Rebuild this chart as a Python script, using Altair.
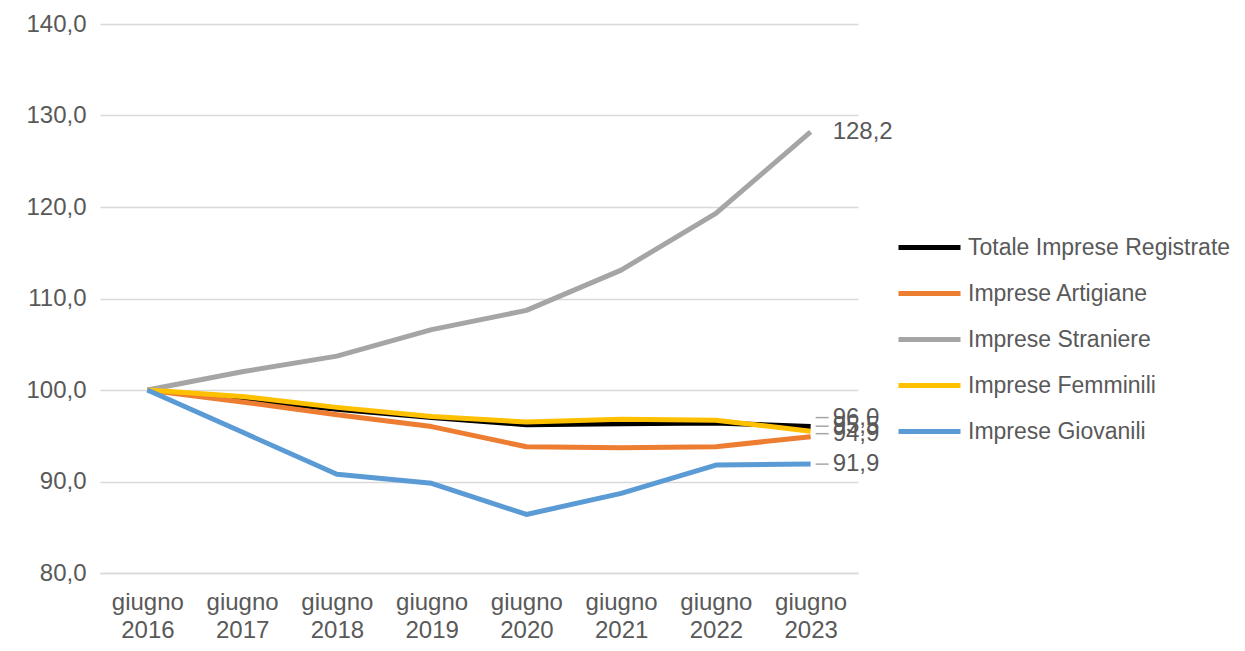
import altair as alt
import pandas as pd

years = ["2016", "2017", "2018", "2019", "2020", "2021", "2022", "2023"]
series = ["Totale Imprese Registrate", "Imprese Artigiane", "Imprese Straniere",
          "Imprese Femminili", "Imprese Giovanili"]
colors = ["#000000", "#ED7D31", "#A5A5A5", "#FFC000", "#5B9BD5"]

totale = [100.0, 99.0, 97.9, 97.0, 96.2, 96.3, 96.4, 96.0]
artigiane = [100.0, 98.7, 97.3, 96.0, 93.8, 93.7, 93.8, 94.9]
straniere = [100.0, 102.0, 103.7, 106.6, 108.7, 113.1, 119.3, 128.2]
femminili = [100.0, 99.3, 98.1, 97.1, 96.5, 96.8, 96.7, 95.5]
giovanili = [100.0, 95.4, 90.8, 89.8, 86.4, 88.7, 91.8, 91.9]

values = [totale, artigiane, straniere, femminili, giovanili]

rows = []
for s, vals in zip(series, values):
    for y, v in zip(years, vals):
        rows.append({"serie": s, "anno": y, "valore": v})
df = pd.DataFrame(rows)

end_rows = []
for s, vals in zip(series, values):
    end_rows.append({"serie": s, "anno": years[-1], "valore": vals[-1],
                     "label": f"{vals[-1]:.1f}".replace(".", ",")})
end_df = pd.DataFrame(end_rows)

# pixel nudges for the end labels (style, not data)
label_dy = {"Totale Imprese Registrate": -9, "Imprese Artigiane": -3,
            "Imprese Straniere": 0, "Imprese Femminili": -5, "Imprese Giovanili": 0}
has_leader = {"Totale Imprese Registrate": True, "Imprese Artigiane": True,
              "Imprese Straniere": False, "Imprese Femminili": True, "Imprese Giovanili": True}

FONT = "Liberation Sans"
FS = 24
TXT = "#595959"

x_enc = alt.X("anno:O", scale=alt.Scale(type="point", padding=0.5),
              axis=alt.Axis(title=None, labelAngle=0, labelExpr="['giugno', datum.label]",
                            labelFontSize=FS, labelColor=TXT, labelFont=FONT, labelPadding=17,
                            labelLineHeight=28, ticks=False, domainColor="#d9d9d9",
                            domainWidth=1.5, grid=False))
y_enc = alt.Y("valore:Q", scale=alt.Scale(domain=[80, 140], nice=False, zero=False),
              axis=alt.Axis(title=None, values=[80, 90, 100, 110, 120, 130, 140],
                            labelExpr="replace(format(datum.value, '.1f'), '.', ',')",
                            labelFontSize=FS, labelColor=TXT, labelFont=FONT, labelPadding=14,
                            ticks=False, domain=False, gridColor="#d9d9d9", gridWidth=1.5,
                            minExtent=92, maxExtent=92))
color_enc = alt.Color("serie:N", scale=alt.Scale(domain=series, range=colors),
                      legend=alt.Legend(title=None, orient="none", legendX=796, legendY=190,
                                        symbolType="stroke", symbolStrokeWidth=5,
                                        symbolSize=3844, labelFontSize=23, labelColor=TXT,
                                        labelFont=FONT, rowPadding=-20, labelOffset=5,
                                        labelLimit=400))

layers = []
for s in series:
    layers.append(
        alt.Chart(df).transform_filter(alt.datum.serie == s)
        .mark_line(strokeWidth=5, strokeJoin="round")
        .encode(x=x_enc, y=y_enc, color=color_enc)
    )

for s in series:
    dy = label_dy[s]
    if has_leader[s]:
        layers.append(
            alt.Chart(end_df).transform_filter(alt.datum.serie == s).mark_rule(
                color="#a6a6a6", strokeWidth=1.5, xOffset=5, x2Offset=18,
                yOffset=dy, y2Offset=dy
            ).encode(x="anno:O", x2="anno:O", y="valore:Q")
        )
for s in ["Imprese Femminili", "Imprese Straniere", "Imprese Artigiane",
          "Totale Imprese Registrate", "Imprese Giovanili"]:
    layers.append(
        alt.Chart(end_df).transform_filter(alt.datum.serie == s).mark_text(
            align="left", baseline="middle", dx=22, dy=label_dy[s],
            fontSize=FS, font=FONT, color=TXT
        ).encode(x="anno:O", y="valore:Q", text="label:N")
    )

chart = alt.layer(*layers).properties(
    width=758, height=549,
    padding={"left": 0, "top": 4, "right": 0, "bottom": 5},
    background="white",
).configure_view(stroke=None)

chart.save("out.html", embed_options={"renderer": "svg", "actions": False})
